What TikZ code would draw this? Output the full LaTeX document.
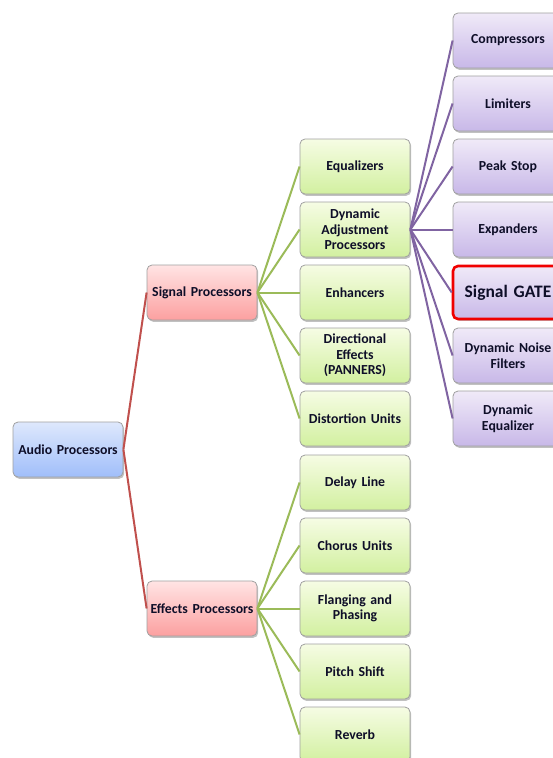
\documentclass[tikz,border=0pt]{standalone}
\usepackage{fontspec}
\setmainfont{Carlito}
\usetikzlibrary{shadows}
\definecolor{txt}{RGB}{14,14,40}
\definecolor{redline}{RGB}{192,80,77}
\definecolor{greenline}{RGB}{155,187,89}
\definecolor{purpleline}{RGB}{128,100,162}
\definecolor{boxborder}{RGB}{160,160,160}
\tikzset{
  box/.style={rectangle, rounded corners=5pt, draw=boxborder, line width=0.8pt,
    minimum width=110pt, minimum height=55pt, inner sep=2pt, text width=106pt,
    align=center, text=txt, font=\bfseries\fontsize{13.8}{15.5}\selectfont,
    drop shadow={shadow xshift=1.2pt, shadow yshift=-1.8pt, opacity=0.35, fill=black!70}},
  bluebox/.style={box, top color={rgb,255:red,222;green,232;blue,252}, bottom color={rgb,255:red,160;green,190;blue,250}},
  redbox/.style={box, top color={rgb,255:red,255;green,228;blue,228}, bottom color={rgb,255:red,252;green,160;blue,160}},
  greenbox/.style={box, top color={rgb,255:red,246;green,252;blue,228}, bottom color={rgb,255:red,210;green,240;blue,160}},
  purplebox/.style={box, top color={rgb,255:red,240;green,234;blue,248}, bottom color={rgb,255:red,200;green,184;blue,232}},
  gatebox/.style={purplebox, draw={rgb,255:red,240;green,0;blue,0}, line width=2.6pt, font=\bfseries\fontsize{17.5}{20}\selectfont},
  rededge/.style={draw=redline, line width=2pt},
  greenedge/.style={draw=greenline, line width=2pt},
  purpleedge/.style={draw=purpleline, line width=2pt},
}
\begin{document}
\begin{tikzpicture}[x=1pt,y=-1pt]
\useasboundingbox (0,0) rectangle (553,758);
\clip (0,0) rectangle (553,758);
\node[bluebox] (audio) at (68,449.5) {Audio Processors};
\node[redbox] (signal) at (202,292.5) {Signal Processors};
\node[redbox] (effects) at (202,608.5) {Effects Processors};
% green boxes
\node[greenbox] (eq) at (355,166.5) {Equalizers};
\node[greenbox] (dyn) at (355,229.5) {Dynamic\\Adjustment\\Processors};
\node[greenbox] (enh) at (355,292.5) {Enhancers};
\node[greenbox] (dir) at (355,355.5) {Directional\\Effects\\(PANNERS)};
\node[greenbox] (dist) at (355,418.5) {Distortion Units};
\node[greenbox] (delay) at (355,482.5) {Delay Line};
\node[greenbox] (chorus) at (355,545.5) {Chorus Units};
\node[greenbox] (flang) at (355,608.5) {Flanging and\\Phasing};
\node[greenbox] (pitch) at (355,671.5) {Pitch Shift};
\node[greenbox] (reverb) at (355,734.5) {Reverb};
% purple boxes
\node[purplebox] (comp) at (508,40.5) {Compressors};
\node[purplebox] (lim) at (508,103.5) {Limiters};
\node[purplebox] (peak) at (508,166.5) {Peak Stop};
\node[purplebox] (exp) at (508,229.5) {Expanders};
\node[gatebox, minimum width=108pt, minimum height=53pt] (gate) at (508,292.5) {Signal GATE};
\node[purplebox] (noise) at (508,355.5) {Dynamic Noise\\Filters};
\node[purplebox] (deq) at (508,418.5) {Dynamic\\Equalizer};
% edges
\draw[rededge] (audio.east) -- (signal.west);
\draw[rededge] (audio.east) -- (effects.west);
\foreach \n in {eq,dyn,enh,dir,dist} \draw[greenedge] (signal.east) -- (\n.west);
\foreach \n in {delay,chorus,flang,pitch,reverb} \draw[greenedge] (effects.east) -- (\n.west);
\foreach \n in {comp,lim,peak,exp,gate,noise,deq} \draw[purpleedge] (dyn.east) -- (\n.west);
\end{tikzpicture}
\end{document}
